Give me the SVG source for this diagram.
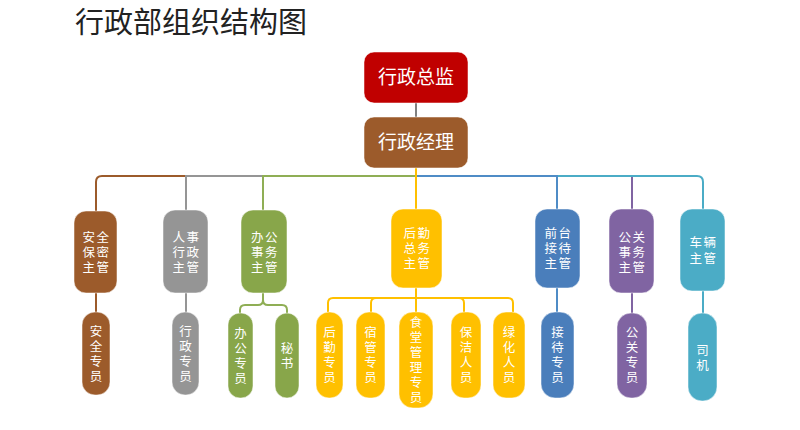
<svg xmlns="http://www.w3.org/2000/svg" width="800" height="430" viewBox="0 0 800 430">
<style>
text{font-family:"Liberation Sans","Noto Sans CJK SC",sans-serif;fill:#fff;text-anchor:middle}
.title{fill:#222;text-anchor:start;font-size:29px;font-family:"Noto Sans CJK SC",sans-serif}
.big{font-size:19px;font-family:"Noto Sans CJK SC",sans-serif}
.mgr{font-size:12.5px;letter-spacing:1.5px}
.sub{font-size:12.5px}
rect{stroke:#fff;stroke-opacity:0.5;stroke-width:1}
.c{fill:none;stroke-width:2}
.br{fill:#9C5B2B}.gy{fill:#959595}.gn{fill:#88A64A}.yl{fill:#FFC000}.bl{fill:#4A7EBB}.pp{fill:#8064A2}.tl{fill:#4BACC6}.rd{fill:#C00000}
</style>
<rect width="800" height="430" fill="#fff" stroke="none"/>
<text class="title" x="75" y="33">行政部组织结构图</text>
<g id="connectors">
<path class="c" stroke="#808080" d="M416,103V117"/>
<path class="c" stroke="#9C5B2B" d="M416,176H102Q96,176 96,182V211"/>
<path class="c" stroke="#959595" d="M416,176H186V210"/>
<path class="c" stroke="#8FAE55" d="M416,176H263V210"/>
<path class="c" stroke="#8064A2" d="M416,176H632V209"/>
<path class="c" stroke="#4BACC6" d="M416,176H697Q703,176 703,182V209"/>
<path class="c" stroke="#4F8CC6" d="M416,176H557V209"/>
<path class="c" stroke="#FFC000" d="M416,168V209"/>
<path class="c" stroke="#9C5B2B" d="M96,293V312"/>
<path class="c" stroke="#959595" d="M186,293V312"/>
<path class="c" stroke="#8FAE55" d="M263,293V300Q263,305 258,305H245Q240,305 240,310V313M263,300Q263,305 268,305H282Q287,305 287,310V313"/>
<path class="c" stroke="#FFC000" d="M416,288V312M416,298H333Q328,298 328,303V312M416,298H376Q371,298 371,303V312M416,298H459Q464,298 464,303V312M416,298H508Q513,298 513,303V312"/>
<path class="c" stroke="#4F8CC6" d="M557,288V312"/>
<path class="c" stroke="#8064A2" d="M632,293V313"/>
<path class="c" stroke="#4BACC6" d="M703,291V313"/>
</g>
<g id="n-director"><rect class="rd" x="364" y="52" width="104" height="51" rx="10"/><text class="big" x="416" y="84">行政总监</text></g>
<g id="n-manager"><rect class="br" x="364" y="117" width="104" height="51" rx="10"/><text class="big" x="416" y="149">行政经理</text></g>

<g id="n-security"><rect class="br" x="74" y="211" width="43" height="82" rx="12"/><text class="mgr"><tspan x="96.5" y="242">安全</tspan><tspan x="96.5" y="257">保密</tspan><tspan x="96.5" y="272">主管</tspan></text></g>
<g id="n-hr"><rect class="gy" x="163" y="210" width="45" height="83" rx="12"/><text class="mgr"><tspan x="186.5" y="242">人事</tspan><tspan x="186.5" y="257">行政</tspan><tspan x="186.5" y="272">主管</tspan></text></g>
<g id="n-office"><rect class="gn" x="241" y="210" width="46" height="83" rx="12"/><text class="mgr"><tspan x="265" y="242">办公</tspan><tspan x="265" y="257">事务</tspan><tspan x="265" y="272">主管</tspan></text></g>
<g id="n-logistics"><rect class="yl" x="391" y="209" width="51" height="79" rx="12"/><text class="mgr"><tspan x="417.5" y="238">后勤</tspan><tspan x="417.5" y="253">总务</tspan><tspan x="417.5" y="268">主管</tspan></text></g>
<g id="n-front"><rect class="bl" x="535" y="209" width="45" height="79" rx="12"/><text class="mgr"><tspan x="558.5" y="238">前台</tspan><tspan x="558.5" y="253">接待</tspan><tspan x="558.5" y="268">主管</tspan></text></g>
<g id="n-pr"><rect class="pp" x="609" y="209" width="45" height="84" rx="12"/><text class="mgr"><tspan x="632.5" y="242">公关</tspan><tspan x="632.5" y="257">事务</tspan><tspan x="632.5" y="272">主管</tspan></text></g>
<g id="n-vehicle"><rect class="tl" x="680" y="209" width="45" height="82" rx="12"/><text class="mgr"><tspan x="703.5" y="247">车辆</tspan><tspan x="703.5" y="263">主管</tspan></text></g>

<g id="n-sec-staff"><rect class="br" x="82" y="312" width="28" height="83" rx="13"/><text class="sub"><tspan x="96" y="336">安</tspan><tspan x="96" y="351">全</tspan><tspan x="96" y="366">专</tspan><tspan x="96" y="381">员</tspan></text></g>
<g id="n-adm-staff"><rect class="gy" x="172" y="312" width="27" height="83" rx="13"/><text class="sub"><tspan x="185.5" y="336">行</tspan><tspan x="185.5" y="351">政</tspan><tspan x="185.5" y="366">专</tspan><tspan x="185.5" y="381">员</tspan></text></g>
<g id="n-off-staff"><rect class="gn" x="228" y="313" width="25" height="85" rx="12"/><text class="sub"><tspan x="240.5" y="338">办</tspan><tspan x="240.5" y="353">公</tspan><tspan x="240.5" y="368">专</tspan><tspan x="240.5" y="383">员</tspan></text></g>
<g id="n-secretary"><rect class="gn" x="275" y="313" width="24" height="85" rx="12"/><text class="sub"><tspan x="287" y="353">秘</tspan><tspan x="287" y="368">书</tspan></text></g>

<g id="n-log-staff"><rect class="yl" x="316" y="312" width="27" height="86" rx="13"/><text class="sub"><tspan x="329.5" y="337">后</tspan><tspan x="329.5" y="352">勤</tspan><tspan x="329.5" y="367">专</tspan><tspan x="329.5" y="382">员</tspan></text></g>
<g id="n-dorm"><rect class="yl" x="356" y="312" width="29" height="86" rx="13"/><text class="sub"><tspan x="370.5" y="337">宿</tspan><tspan x="370.5" y="352">管</tspan><tspan x="370.5" y="367">专</tspan><tspan x="370.5" y="382">员</tspan></text></g>
<g id="n-canteen"><rect class="yl" x="399" y="312" width="34" height="96" rx="14"/><text class="sub"><tspan x="416" y="327">食</tspan><tspan x="416" y="342">堂</tspan><tspan x="416" y="357">管</tspan><tspan x="416" y="372">理</tspan><tspan x="416" y="387">专</tspan><tspan x="416" y="402">员</tspan></text></g>
<g id="n-clean"><rect class="yl" x="451" y="312" width="30" height="86" rx="13"/><text class="sub"><tspan x="466" y="337">保</tspan><tspan x="466" y="352">洁</tspan><tspan x="466" y="367">人</tspan><tspan x="466" y="382">员</tspan></text></g>
<g id="n-green"><rect class="yl" x="493" y="312" width="32" height="86" rx="13"/><text class="sub"><tspan x="509" y="337">绿</tspan><tspan x="509" y="352">化</tspan><tspan x="509" y="367">人</tspan><tspan x="509" y="382">员</tspan></text></g>

<g id="n-reception"><rect class="bl" x="541" y="312" width="33" height="86" rx="14"/><text class="sub"><tspan x="557.5" y="337">接</tspan><tspan x="557.5" y="352">待</tspan><tspan x="557.5" y="367">专</tspan><tspan x="557.5" y="382">员</tspan></text></g>
<g id="n-pr-staff"><rect class="pp" x="617" y="313" width="30" height="85" rx="14"/><text class="sub"><tspan x="632" y="337">公</tspan><tspan x="632" y="352">关</tspan><tspan x="632" y="367">专</tspan><tspan x="632" y="382">员</tspan></text></g>
<g id="n-driver"><rect class="tl" x="688" y="313" width="29" height="88" rx="14"/><text class="sub"><tspan x="702.5" y="355">司</tspan><tspan x="702.5" y="370">机</tspan></text></g>
</svg>
